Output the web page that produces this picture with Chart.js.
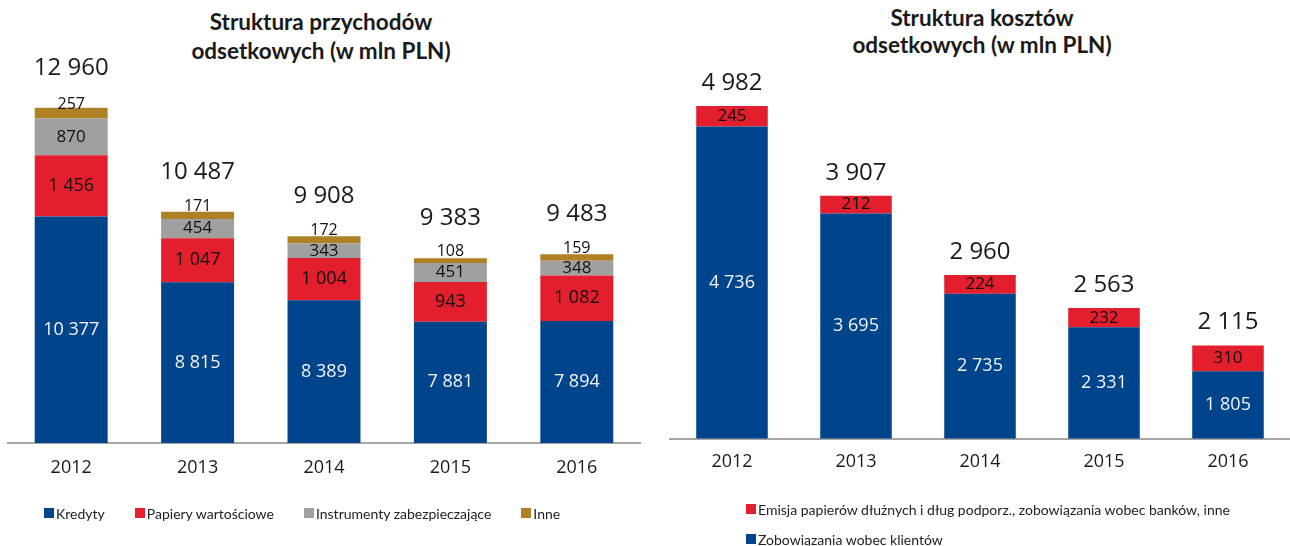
<!DOCTYPE html>
<html>
<head>
<meta charset="utf-8">
<script src="https://cdn.jsdelivr.net/npm/chart.js@4.4.1/dist/chart.umd.min.js"></script>
<style>
  html, body { margin: 0; padding: 0; background: #fff; }
  body { width: 1290px; height: 546px; position: relative; overflow: hidden; }
  canvas { position: absolute; top: 0; }
  .title { position: absolute; font-family: Lato, sans-serif; font-weight: bold; font-size: 22.5px;
           color: #1a1a1a; text-align: center; }
  .legend { position: absolute; font-family: Lato, sans-serif; font-size: 14px; color: #222; }
  .legend .item { display: inline-flex; align-items: center; white-space: nowrap; }
  .legend .box { display: inline-block; width: 10px; height: 10px; margin-right: 2px; }
  #legendLeft .item { margin-right: 30px; }
  #legendRight .item { display: flex; height: 30px; }
</style>
</head>
<body>
<div class="title" id="titleLeft" style="left:0; width:642px; top:7px; line-height:29px;">Struktura przychodów<br>odsetkowych (w mln PLN)</div>
<div class="title" id="titleRight" style="left:660px; width:644px; top:4px; line-height:27px;">Struktura kosztów<br>odsetkowych (w mln PLN)</div>
<canvas id="przychody" width="650" height="546" style="left:0"></canvas>
<canvas id="koszty" width="645" height="546" style="left:655px"></canvas>
<div class="legend" id="legendLeft" style="left:44px; top:504px;"></div>
<div class="legend" id="legendRight" style="left:746px; top:494px;"></div>
<script>
var years = ['2012', '2013', '2014', '2015', '2016'];

// przychody odsetkowe
var kredyty = [10377, 8815, 8389, 7881, 7894];
var papiery = [1456, 1047, 1004, 943, 1082];
var instrumenty = [870, 454, 343, 451, 348];
var inne = [257, 171, 172, 108, 159];
var przychodyRazem = [12960, 10487, 9908, 9383, 9483];

// koszty odsetkowe
var zobowiazaniaKlienci = [4736, 3695, 2735, 2331, 1805];
var emisja = [245, 212, 224, 232, 310];
var kosztyRazem = [4982, 3907, 2960, 2563, 2115];

var BLUE = '#00458c', RED = '#e31e2d', GREY = '#a0a0a0', GOLD = '#ae8125';
var NUM_FONT = '"Open Sans", "Noto Sans", sans-serif';

function fmt(v) {
  return String(v).replace(/\B(?=(\d{3})+(?!\d))/g, ' ');
}

// wartości w segmentach + suma nad słupkiem
var stackLabels = {
  id: 'stackLabels',
  afterDatasetsDraw: function (chart, args, opts) {
    var ctx = chart.ctx;
    var bottom = chart.chartArea.bottom;
    ctx.save();
    ctx.textAlign = 'center';
    ctx.textBaseline = 'middle';
    chart.data.datasets.forEach(function (ds, i) {
      var meta = chart.getDatasetMeta(i);
      ctx.fillStyle = ds.labelColor;
      ctx.font = (ds.labelSize || 18) + 'px ' + NUM_FONT;
      meta.data.forEach(function (bar, j) {
        // oś nie zaczyna się od zera, więc dolny segment przycinamy do osi
        var y = (bar.y + Math.min(bar.base, bottom)) / 2;
        if (ds.labelAbove) y -= 9;
        ctx.fillText(fmt(ds.data[j]), bar.x, y);
      });
    });
    var top = chart.getDatasetMeta(chart.data.datasets.length - 1);
    ctx.fillStyle = '#1a1a1a';
    ctx.font = '24px ' + NUM_FONT;
    top.data.forEach(function (bar, j) {
      ctx.fillText(fmt(opts.totals[j]), bar.x, bar.y - opts.offset);
    });
    ctx.restore();
  }
};

function makeChart(id, datasets, yMin, yMax, padding, tickPad, totals, offset) {
  return new Chart(document.getElementById(id), {
    type: 'bar',
    data: { labels: years, datasets: datasets },
    options: {
      responsive: false,
      animation: false,
      layout: { padding: padding },
      datasets: { bar: { categoryPercentage: 1, barPercentage: 0.577 } },
      scales: {
        x: {
          stacked: true,
          grid: { display: false, drawTicks: false },
          border: { display: true, color: '#a6a6a6', width: 2 },
          ticks: { color: '#1a1a1a', padding: tickPad, font: { family: NUM_FONT, size: 18 } },
          afterFit: function (scale) { scale.height = 60; }
        },
        y: { stacked: true, display: false, min: yMin, max: yMax }
      },
      plugins: {
        legend: { display: false },
        tooltip: { enabled: false },
        stackLabels: { totals: totals, offset: offset }
      }
    },
    plugins: [stackLabels]
  });
}

var left = makeChart('przychody', [
  { label: 'Kredyty', data: kredyty, backgroundColor: BLUE, labelColor: '#f2f2f2' },
  { label: 'Papiery wartościowe', data: papiery, backgroundColor: RED, labelColor: '#111' },
  { label: 'Instrumenty zabezpieczające', data: instrumenty, backgroundColor: GREY, labelColor: '#111', labelSize: 17 },
  { label: 'Inne', data: inne, backgroundColor: GOLD, labelColor: '#111', labelSize: 16, labelAbove: true }
], 5000, 13000, { left: 8, right: 10, top: 106, bottom: 43 }, 14, przychodyRazem, 40);

var right = makeChart('koszty', [
  { label: 'Zobowiązania wobec klientów', data: zobowiazaniaKlienci, backgroundColor: BLUE, labelColor: '#f2f2f2' },
  { label: 'Emisja papierów dłużnych i dług podporz., zobowiązania wobec banków, inne', data: emisja,
    backgroundColor: RED, labelColor: '#111', labelSize: 17 }
], 1000, 5000, { left: 15, right: 10, top: 104.5, bottom: 47.5 }, 13, kosztyRazem, 23);

function buildLegend(el, chart, reverse) {
  var ds = chart.data.datasets.slice();
  if (reverse) ds.reverse();
  ds.forEach(function (d) {
    var item = document.createElement('div');
    item.className = 'item';
    var box = document.createElement('span');
    box.className = 'box';
    box.style.background = d.backgroundColor;
    item.appendChild(box);
    item.appendChild(document.createTextNode(d.label));
    el.appendChild(item);
  });
}
buildLegend(document.getElementById('legendLeft'), left, false);
buildLegend(document.getElementById('legendRight'), right, true);
</script>
</body>
</html>
